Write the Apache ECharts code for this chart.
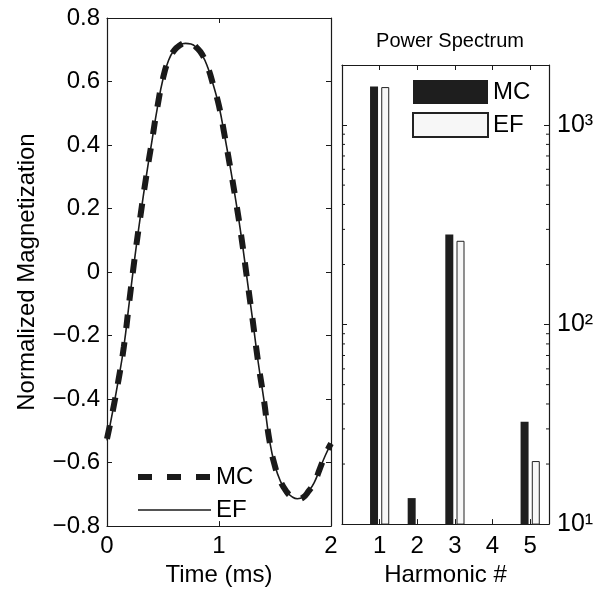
<!DOCTYPE html>
<html>
<head>
<meta charset="utf-8">
<script src="https://cdn.jsdelivr.net/npm/echarts@6/dist/echarts.min.js"></script>
<style>html,body{margin:0;padding:0;background:#fff}#c{width:603px;height:592px}</style>
</head>
<body>
<div id="c"></div>
<script>
// ---- data ----
const timeMs = [0,0.05,0.10,0.15,0.20,0.25,0.30,0.35,0.40,0.45,0.50,0.55,0.60,0.65,0.70,0.75,0.80,0.85,0.90,0.95,1.00,1.05,1.10,1.15,1.20,1.25,1.30,1.35,1.40,1.45,1.50,1.55,1.60,1.65,1.70,1.75,1.80,1.85,1.90,1.95,2.00];
const mcMag = [-0.525,-0.44,-0.345,-0.236,-0.09,0.052,0.18,0.30,0.41,0.52,0.61,0.668,0.698,0.714,0.721,0.72,0.707,0.685,0.645,0.587,0.523,0.43,0.33,0.225,0.11,-0.02,-0.15,-0.285,-0.40,-0.53,-0.612,-0.66,-0.69,-0.708,-0.715,-0.71,-0.69,-0.664,-0.62,-0.575,-0.54];
const efMag = [-0.53,-0.44,-0.343,-0.236,-0.092,0.05,0.18,0.30,0.41,0.518,0.608,0.667,0.699,0.715,0.72,0.718,0.706,0.683,0.644,0.588,0.522,0.43,0.331,0.225,0.11,-0.02,-0.15,-0.284,-0.40,-0.528,-0.61,-0.66,-0.69,-0.707,-0.714,-0.709,-0.69,-0.663,-0.62,-0.577,-0.54];
const harmonics = [1,2,3,4,5];
const mcPower = [1560, 13.5, 283, null, 32.6];
const efPower = [1550, null, 263, null, 20.7];
const leftYTicks = [-0.8,-0.6,-0.4,-0.2,0,0.2,0.4,0.6,0.8];
const leftYTickLabels = ['\u22120.8','\u22120.6','\u22120.4','\u22120.2','0','0.2','0.4','0.6','0.8'];
const leftXTickLabels = ['0','1','2'];
const rightXTickLabels = ['1','2','3','4','5'];
const rightYTicks = [10,100,1000];
const rightYTickLabels = ['10\u00b9','10\u00b2','10\u00b3'];
const minorLogTicks = [20,30,40,50,60,70,80,90,200,300,400,500,600,700,800,900];

// ---- chart ----
const FONT = 'Liberation Sans';
const INK = '#1a1a1a';
const chart = echarts.init(document.getElementById('c'), null, {renderer:'canvas'});
const axLine = {show:true, onZero:false, lineStyle:{color:INK, width:1.2}};
const tickIn = {show:true, inside:true, length:5, lineStyle:{color:INK, width:1}};
const noLabel = {show:false};
const lab = {color:'#000', fontFamily:FONT, fontSize:24};

const lineData = (ys) => timeMs.map((t,i)=>[t, ys[i]]);
const barData = (ys) => harmonics.map((h,i)=>[h, ys[i] == null ? '-' : ys[i]]);

chart.setOption({
  animation:false,
  backgroundColor:'#fff',
  title:{text:'Power Spectrum', left:445, top:26, textAlign:'center',
    textStyle:{fontFamily:FONT, fontSize:20, fontWeight:'normal', color:'#000'}},
  grid:[
    {left:107, top:18, width:224, height:518},
    {left:342, top:65, width:207, height:472}
  ],
  legend:[
    {orient:'vertical', left:130, top:460, itemWidth:73, itemHeight:20, itemGap:9,
     itemStyle:{opacity:0},
     data:[{name:'MC', lineStyle:{width:6, type:[14,15], color:INK}},
           {name:'EF', lineStyle:{width:1.6, type:'solid', color:INK}}],
     textStyle:{fontFamily:FONT, fontSize:24, color:'#000'},
     selectedMode:false},
    {orient:'vertical', left:407, top:75, itemWidth:75, itemHeight:24, itemGap:8, icon:'rect',
     data:['MC ','EF '], textStyle:{fontFamily:FONT, fontSize:24, color:'#000'},
     selectedMode:false}
  ],
  xAxis:[
    {type:'value', gridIndex:0, min:0, max:2, interval:1, position:'bottom',
     axisLine:axLine, axisTick:tickIn, splitLine:{show:false},
     axisLabel:Object.assign({margin:8, formatter:(v)=>leftXTickLabels[Math.round(v)]}, lab),
     name:'Time (ms)', nameLocation:'middle', nameGap:30,
     nameTextStyle:{fontFamily:FONT, fontSize:24, color:'#000'}},
    {type:'value', gridIndex:0, min:0, max:2, interval:1, position:'top',
     axisLine:axLine, axisTick:tickIn, splitLine:{show:false}, axisLabel:noLabel},
    {type:'value', gridIndex:1, min:0, max:5.5, interval:1, position:'bottom',
     axisLine:axLine, axisTick:tickIn, splitLine:{show:false},
     axisLabel:Object.assign({margin:10, showMaxLabel:false,
       formatter:(v)=> (v>=1 && v<=5 && Math.abs(v-Math.round(v))<1e-6) ? rightXTickLabels[Math.round(v)-1] : ''}, lab),
     name:'Harmonic #', nameLocation:'middle', nameGap:33,
     nameTextStyle:{fontFamily:FONT, fontSize:24, color:'#000'}},
    {type:'value', gridIndex:1, min:0, max:5.5, interval:1, position:'top',
     axisLine:axLine, axisTick:tickIn, splitLine:{show:false}, axisLabel:noLabel}
  ],
  yAxis:[
    {type:'value', gridIndex:0, min:-0.8, max:0.8, interval:0.2, position:'left',
     axisLine:axLine, axisTick:tickIn, splitLine:{show:false},
     axisLabel:Object.assign({margin:7, formatter:(v)=>{
        const i = leftYTicks.findIndex(t=>Math.abs(t-v)<1e-6); return i>=0?leftYTickLabels[i]:''; }}, lab),
     name:'Normalized Magnetization', nameLocation:'middle', nameGap:68, nameRotate:90,
     nameTextStyle:{fontFamily:FONT, fontSize:24, color:'#000'}},
    {type:'value', gridIndex:0, min:-0.8, max:0.8, interval:0.2, position:'right',
     axisLine:axLine, axisTick:tickIn, splitLine:{show:false}, axisLabel:noLabel},
    {type:'log', logBase:10, gridIndex:1, min:10, max:2000, position:'right',
     axisLine:axLine, axisTick:tickIn, splitLine:{show:false},
     axisLabel:Object.assign({margin:8, showMaxLabel:false, formatter:(v)=>{
        const i = rightYTicks.findIndex(t=>Math.abs(t-v)<1e-6*t); return i>=0?rightYTickLabels[i]:''; }}, lab, {fontSize:25})},
    {type:'log', logBase:10, gridIndex:1, min:10, max:2000, position:'left',
     axisLine:axLine, axisTick:tickIn, splitLine:{show:false}, axisLabel:noLabel}
  ],
  series:[
    {name:'MC', type:'line', xAxisIndex:0, yAxisIndex:0, data:lineData(mcMag),
     symbol:'none', smooth:true, lineStyle:{color:INK, width:6, type:[14,14]}, itemStyle:{color:INK}, z:2},
    {name:'EF', type:'line', xAxisIndex:0, yAxisIndex:0, data:lineData(efMag),
     symbol:'none', smooth:true, lineStyle:{color:INK, width:1.6, type:'solid'}, itemStyle:{color:INK}, z:3},
    {name:'MC ', type:'bar', xAxisIndex:2, yAxisIndex:2, data:barData(mcPower),
     barWidth:8, barGap:'40%', itemStyle:{color:'#1e1e1e', borderColor:'#1e1e1e', borderWidth:0}},
    {name:'EF ', type:'bar', xAxisIndex:2, yAxisIndex:2, data:barData(efPower),
     barWidth:8, barGap:'40%', itemStyle:{color:'#f7f7f7', borderColor:'#222', borderWidth:1}},
    {name:'minor', type:'custom', xAxisIndex:2, yAxisIndex:2, silent:true, clip:false,
     data:minorLogTicks.map(v=>[0, v]),
     renderItem:(params, api)=>{
       const v = api.value(1);
       const pL = api.coord([0, v]);
       const pR = api.coord([5.5, v]);
       return {type:'group', children:[
         {type:'line', shape:{x1:pL[0], y1:pL[1], x2:pL[0]+3, y2:pL[1]}, style:{stroke:INK, lineWidth:1}},
         {type:'line', shape:{x1:pR[0], y1:pR[1], x2:pR[0]-3, y2:pR[1]}, style:{stroke:INK, lineWidth:1}}
       ]};
     }}
  ]
});
</script>
</body>
</html>
